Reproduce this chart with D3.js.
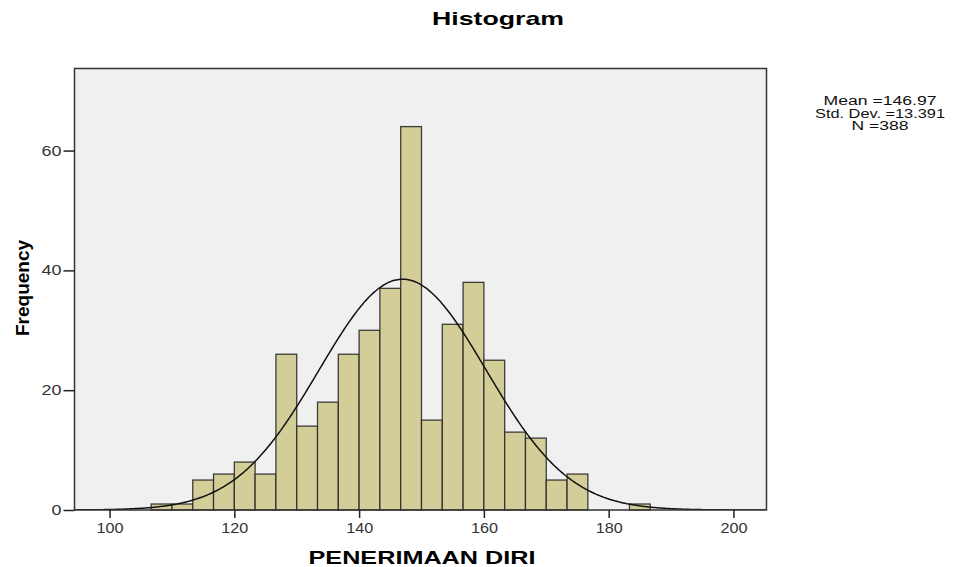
<!DOCTYPE html>
<html><head><meta charset="utf-8">
<script src="https://cdn.jsdelivr.net/npm/d3@7/dist/d3.min.js"></script>
<style>body{margin:0;background:#fff}svg{display:block}</style>
</head><body>
<svg id="c" width="960" height="567"></svg>
<script>
// Data
const binStart = 106.6667;
const binWidth = 10 / 3;
const counts = [1,1,5,6,8,6,26,14,18,26,30,37,64,15,31,38,25,13,12,5,6,0,0,1];
const xTicks = [100,120,140,160,180,200];
const yTicks = [0,20,40,60];
const mean = 146.97, sd = 13.391, N = 388;
const statsLines = ["Mean =146.97", "Std. Dev. =13.391", "N =388"];

const svg = d3.select("#c");
const L = 74.5, R = 766.5, T = 68.5, B = 510;
const x = d3.scaleLinear().domain([94.38, 205.3]).range([L, R]);
const y = d3.scaleLinear().domain([0, 73.7]).range([B, T]);
const font = "'Liberation Sans', Arial, sans-serif";

// plot background
svg.append("rect").attr("x", L).attr("y", T).attr("width", R - L).attr("height", B - T)
  .attr("fill", "#f0f0f0");

svg.append("defs").append("clipPath").attr("id", "clip")
  .append("rect").attr("x", L).attr("y", T).attr("width", R - L).attr("height", B - T);

// bars
const bins = counts.map((c, i) => ({x0: binStart + i * binWidth, x1: binStart + (i + 1) * binWidth, c}))
  .filter(d => d.c > 0);
svg.append("g").selectAll("rect").data(bins).join("rect")
  .attr("x", d => x(d.x0)).attr("y", d => y(d.c))
  .attr("width", d => x(d.x1) - x(d.x0)).attr("height", d => y(0) - y(d.c))
  .attr("fill", "#d3ce98").attr("stroke", "#2a2a2a").attr("stroke-width", 1.3).attr("stroke-opacity", 0.9);

// normal curve
const scale = N * binWidth / (sd * Math.sqrt(2 * Math.PI));
const pts = d3.range(94.38, 205.31, 0.25).map(v => [v, scale * Math.exp(-0.5 * ((v - mean) / sd) ** 2)]);
svg.append("path").datum(pts).attr("clip-path", "url(#clip)")
  .attr("d", d3.line().x(d => x(d[0])).y(d => y(d[1])).curve(d3.curveBasis))
  .attr("fill", "none").attr("stroke", "#111").attr("stroke-width", 1.5);

// frame
svg.append("rect").attr("x", L).attr("y", T).attr("width", R - L).attr("height", B - T)
  .attr("fill", "none").attr("stroke", "#333").attr("stroke-width", 1.5);

// axes
const xa = svg.append("g").attr("transform", `translate(0,${B})`)
  .call(d3.axisBottom(x).tickValues(xTicks).tickSize(8).tickPadding(5).tickFormat(d3.format("d")));
const ya = svg.append("g").attr("transform", `translate(${L},0)`)
  .call(d3.axisLeft(y).tickValues(yTicks).tickSize(11).tickPadding(2).tickFormat(d3.format("d")));
[xa, ya].forEach(a => {
  a.select(".domain").remove();
  a.selectAll(".tick line").attr("stroke", "#222").attr("stroke-width", 1.5);
  a.selectAll(".tick text").attr("fill", "#333").style("font-family", font).style("font-size", "14px");
});
xa.selectAll(".tick text").attr("textLength", 27).attr("lengthAdjust", "spacingAndGlyphs");
ya.selectAll(".tick text").each(function(d){ d3.select(this).attr("textLength", String(d).length * 10).attr("lengthAdjust","spacingAndGlyphs"); });

// title
svg.append("text").attr("x", 498).attr("y", 25).attr("text-anchor", "middle")
  .style("font-family", font).style("font-weight", "bold").style("font-size", "19px")
  .attr("textLength", 132).attr("lengthAdjust", "spacingAndGlyphs").text("Histogram");

// x label
svg.append("text").attr("x", 422).attr("y", 564).attr("text-anchor", "middle")
  .style("font-family", font).style("font-weight", "bold").style("font-size", "18px")
  .attr("textLength", 227).attr("lengthAdjust", "spacingAndGlyphs").text("PENERIMAAN DIRI");

// y label
svg.append("text").attr("transform", "translate(29,288) rotate(-90)").attr("text-anchor", "middle")
  .style("font-family", font).style("font-weight", "bold").style("font-size", "19px")
  .attr("textLength", 96).attr("lengthAdjust", "spacingAndGlyphs").text("Frequency");

// stats
const widths = [113, 130, 57];
svg.append("g").selectAll("text").data(statsLines).join("text")
  .attr("x", 880).attr("y", (d, i) => 105 + i * 12.5).attr("text-anchor", "middle")
  .style("font-family", font).style("font-size", "12px").attr("fill", "#111")
  .attr("textLength", (d, i) => widths[i]).attr("lengthAdjust", "spacingAndGlyphs")
  .text(d => d);
</script>
</body></html>
